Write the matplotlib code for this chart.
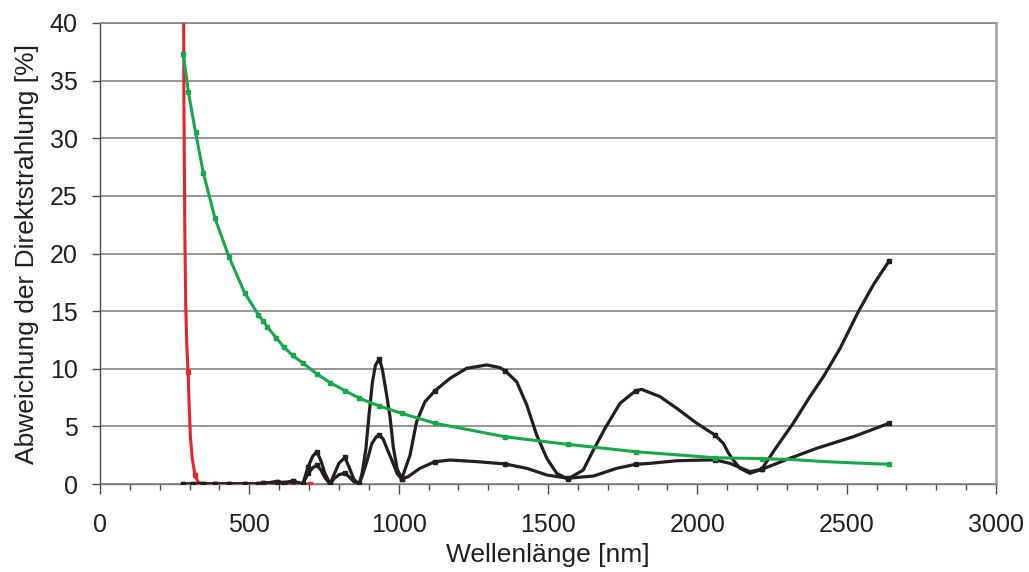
import matplotlib
matplotlib.use("Agg")
import matplotlib.pyplot as plt
from matplotlib.ticker import MultipleLocator

plt.rcParams['font.family'] = ['Liberation Sans', 'DejaVu Sans']

# ---- data ----
green_x = [279, 296, 320, 346, 385, 432, 485, 530, 547, 560, 589, 617, 645, 679,
           726, 770, 820, 868, 935, 1010, 1122, 1356, 1566, 1794, 2059, 2215,
           2320, 2421, 2533, 2642]
green_y = [37.3, 34.0, 30.5, 27.0, 23.05, 19.7, 16.55, 14.7, 14.1, 13.65, 12.7, 11.85,
           11.15, 10.5, 9.55, 8.8, 8.1, 7.45, 6.77, 6.13, 5.27, 4.1, 3.44, 2.8, 2.28,
           2.2, 2.12, 1.95, 1.82, 1.71]
green_marks = [279, 296, 320, 346, 385, 432, 485, 530, 547, 560, 589, 617, 645, 679,
               726, 770, 820, 868, 935, 1010, 1122, 1356, 1566, 1794, 2059, 2215, 2642]

red_x = [279, 281, 284, 287, 291, 295, 299, 303, 309, 318, 328, 340, 385, 432, 485,
         530, 547, 592, 617, 645, 679, 703]
red_y = [48.0, 33.0, 22.0, 15.5, 11.8, 9.7, 6.5, 4.0, 2.2, 0.78, 0.2, 0.0, 0.0, 0.0,
         0.0, 0.0, 0.0, 0.0, 0.1, 0.05, 0.0, 0.0]
red_marks = [295, 318, 340, 385, 432, 485, 530, 547, 592, 617, 645, 679, 703]

black_a_x = [279, 312, 346, 385, 432, 485, 530, 547, 592, 617, 645, 679, 697, 712,
             726, 740, 752, 770, 785, 800, 820, 835, 850, 868, 878, 890, 900, 912,
             922, 935, 945, 958, 971, 982, 995, 1010, 1038, 1060, 1088, 1122, 1172,
             1228, 1295, 1339, 1356, 1395, 1429, 1462, 1496, 1529, 1566, 1618, 1652,
             1691, 1741, 1794, 1814, 1875, 1931, 1998, 2059, 2087, 2104, 2120, 2143,
             2176, 2215, 2266, 2321, 2377, 2422, 2478, 2539, 2589, 2642]
black_a_y = [0.0, 0.0, 0.0, 0.0, 0.0, 0.0, 0.0, 0.05, 0.2, 0.1, 0.25, 0.0, 1.5, 2.4,
             2.8, 2.0, 1.0, 0.0, 0.9, 1.8, 2.3, 1.4, 0.4, 0.0, 1.0, 3.0, 5.8, 8.8,
             10.3, 10.85, 10.0, 8.0, 5.84, 3.2, 1.3, 0.43, 2.5, 5.4, 7.14, 8.1, 9.17,
             10.04, 10.33, 10.1, 9.83, 8.88, 6.85, 4.25, 2.23, 0.93, 0.43, 1.21, 2.95,
             4.83, 7.0, 8.1, 8.21, 7.58, 6.57, 5.27, 4.25, 3.53, 2.7, 2.08, 1.36,
             0.93, 1.27, 3.24, 5.27, 7.58, 9.31, 11.77, 14.95, 17.27, 19.35]

black_b_x = [279, 312, 346, 385, 432, 485, 530, 547, 592, 617, 645, 679, 697, 712,
             726, 740, 752, 770, 785, 800, 820, 835, 850, 868, 878, 895, 910, 925,
             935, 948, 962, 977, 995, 1010, 1032, 1071, 1122, 1172, 1261, 1356, 1429,
             1496, 1566, 1652, 1730, 1794, 1841, 1931, 2059, 2109, 2176, 2215, 2310,
             2400, 2522, 2642]
black_b_y = [0.0, 0.0, 0.0, 0.0, 0.0, 0.0, 0.0, 0.05, 0.2, 0.1, 0.25, 0.0, 0.93, 1.4,
             1.65, 1.2, 0.6, 0.0, 0.5, 0.8, 0.95, 0.6, 0.2, 0.0, 0.7, 2.08, 3.5, 4.1,
             4.25, 3.9, 3.0, 2.08, 0.9, 0.43, 0.64, 1.36, 1.94, 2.08, 1.94, 1.74, 1.36,
             0.78, 0.5, 0.69, 1.36, 1.71, 1.79, 2.02, 2.1, 1.79, 1.07, 1.27, 2.23,
             3.1, 4.1, 5.27]
black_marks = [279, 312, 346, 385, 432, 485, 530, 547, 592, 617, 645, 679, 697, 726,
               770, 820, 868, 935, 1010, 1122, 1356, 1566, 1794, 2059, 2215, 2642]

x_label = "Wellenlänge [nm]"
y_label = "Abweichung der Direktstrahlung [%]"

# ---- figure ----
fig = plt.figure(figsize=(10.29, 5.72), dpi=100)
ax = fig.add_axes([100/1029, 1 - 484/572, 896/1029, 461/572])


def idx(xs, marks):
    s = set(marks)
    return [i for i, v in enumerate(xs) if v in s]


RED = '#e8232b'
GREEN = '#17a84b'
BLACK = '#231f20'

ax.plot(red_x, red_y, color=RED, lw=2.2, marker='s', ms=3.5,
        markevery=idx(red_x, red_marks), zorder=3)
ax.plot(black_b_x, black_b_y, color=BLACK, lw=2.3, marker='s', ms=3.5,
        markevery=idx(black_b_x, black_marks), zorder=4)
ax.plot(black_a_x, black_a_y, color=BLACK, lw=2.3, marker='s', ms=3.5,
        markevery=idx(black_a_x, black_marks), zorder=4)
ax.plot(green_x, green_y, color=GREEN, lw=2.2, marker='s', ms=3.5,
        markevery=idx(green_x, green_marks), zorder=5)

ax.set_xlim(0, 3000)
ax.set_ylim(0, 40)
ax.xaxis.set_major_locator(MultipleLocator(500))
ax.xaxis.set_minor_locator(MultipleLocator(100))
ax.yaxis.set_major_locator(MultipleLocator(5))

ax.grid(axis='y', color='#7a7a7a', lw=1.1, zorder=1)
ax.set_axisbelow(True)

ax.spines['left'].set_color('#4a4a4a')
ax.spines['left'].set_linewidth(1.0)
ax.spines['bottom'].set_color('#7a7a7a')
ax.spines['bottom'].set_linewidth(1.0)
ax.spines['right'].set_color('#a8a8a8')
ax.spines['right'].set_linewidth(2.0)
ax.spines['top'].set_color('#8a8a8a')
ax.spines['top'].set_linewidth(1.3)

ax.tick_params(axis='y', which='major', direction='out', length=6, width=1,
               color='#4a4a4a', labelsize=18, pad=10, labelcolor='#231f20')
ax.tick_params(axis='x', which='major', direction='out', length=7, width=1,
               color='#4a4a4a', labelsize=18, pad=14, labelcolor='#231f20')
ax.tick_params(axis='x', which='minor', direction='out', length=4, width=1,
               color='#4a4a4a')

ax.set_xlabel(x_label, fontsize=19, color='#231f20', labelpad=4)
ax.set_ylabel(y_label, fontsize=19, color='#231f20', labelpad=8)

fig.savefig('out.png', dpi=100)
